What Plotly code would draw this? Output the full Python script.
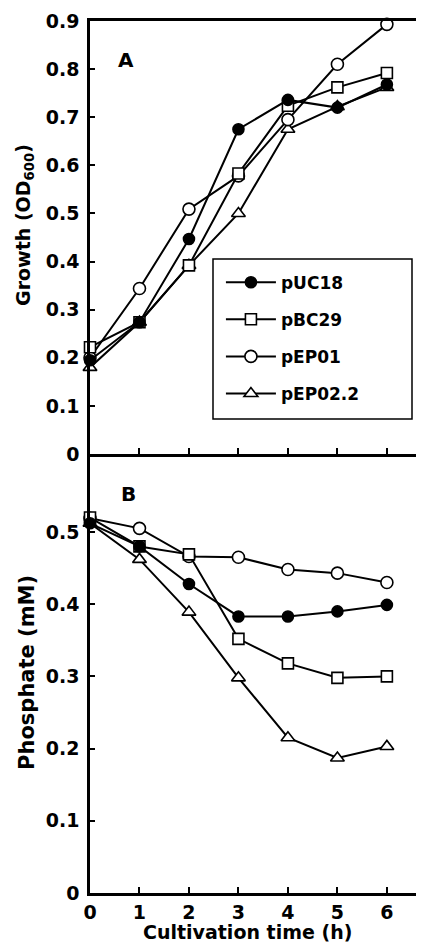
import plotly.graph_objects as go

time_h = [0, 1, 2, 3, 4, 5, 6]
strains = ["pUC18", "pBC29", "pEP01", "pEP02.2"]

growth = {
    "pUC18":   [0.195, 0.274, 0.447, 0.675, 0.736, 0.72, 0.768],
    "pBC29":   [0.222, 0.274, 0.392, 0.583, 0.724, 0.762, 0.792],
    "pEP01":   [0.200, 0.344, 0.509, 0.578, 0.695, 0.810, 0.893],
    "pEP02.2": [0.180, 0.274, 0.392, 0.500, 0.675, 0.722, 0.762],
}
phosphate = {
    "pUC18":   [0.512, 0.480, 0.428, 0.383, 0.383, 0.390, 0.399],
    "pBC29":   [0.520, 0.480, 0.469, 0.352, 0.318, 0.298, 0.300],
    "pEP01":   [0.519, 0.505, 0.466, 0.465, 0.448, 0.443, 0.430],
    "pEP02.2": [0.512, 0.462, 0.389, 0.298, 0.215, 0.187, 0.203],
}

growth_ticks = [0, 0.1, 0.2, 0.3, 0.4, 0.5, 0.6, 0.7, 0.8, 0.9]
phos_ticks = [0, 0.1, 0.2, 0.3, 0.4, 0.5]
x_ticks = [0, 1, 2, 3, 4, 5, 6]

styles = {
    "pUC18":   dict(symbol="circle", color="black"),
    "pBC29":   dict(symbol="square", color="white"),
    "pEP01":   dict(symbol="circle", color="white"),
    "pEP02.2": dict(symbol="triangle-up", color="white"),
}
sizes = {"pUC18": 11, "pBC29": 11, "pEP01": 12, "pEP02.2": 12}
draw_order = ["pEP02.2", "pEP01", "pBC29", "pUC18"]
rank = {s: i + 1 for i, s in enumerate(strains)}

FONT = "DejaVu Sans"
fig = go.Figure()

for s in draw_order:
    st = styles[s]
    mk = dict(symbol=st["symbol"], color=st["color"], size=sizes[s],
              line=dict(color="black", width=1.6))
    fig.add_trace(go.Scatter(
        x=time_h, y=growth[s], mode="lines+markers", name=s,
        line=dict(color="black", width=2), marker=mk,
        legendgroup=s, legendrank=rank[s], cliponaxis=False,
        xaxis="x", yaxis="y"))
    fig.add_trace(go.Scatter(
        x=time_h, y=phosphate[s], mode="lines+markers", name=s,
        line=dict(color="black", width=2), marker=mk,
        legendgroup=s, showlegend=False, cliponaxis=False,
        xaxis="x2", yaxis="y2"))

split = (893 - 454) / 872
tickfont = dict(family=FONT, size=19, color="black", weight="bold")


def fmt(v):
    return "0" if v == 0 else f"{v:.1f}"


fig.update_layout(
    width=416, height=937,
    margin=dict(l=82, r=0, t=13, b=52),
    paper_bgcolor="white", plot_bgcolor="white",
    showlegend=True,
    legend=dict(
        x=0.392, y=0.7206, xanchor="left", yanchor="top",
        bgcolor="rgba(0,0,0,0)", borderwidth=0,
        font=dict(family=FONT, size=17, color="black", weight="bold"),
        traceorder="grouped", tracegroupgap=12, itemwidth=50,
    ),
    shapes=[
        dict(type="rect", xref="paper", yref="paper",
             x0=(213 - 90) / 334, x1=(412 - 90) / 334,
             y0=(893 - 419) / 872, y1=(893 - 259) / 872,
             line=dict(color="black", width=1.5), fillcolor="white", layer="below"),
    ],
    xaxis=dict(
        domain=[0, 1], range=[0, 6.75], anchor="y",
        tickvals=x_ticks, showticklabels=False,
        ticks="inside", ticklen=6, tickwidth=2, tickcolor="black",
        showline=True, linecolor="black", linewidth=2.5, mirror=True,
        showgrid=False, zeroline=False,
    ),
    yaxis=dict(
        domain=[split, 1], range=[0, 0.9], anchor="x",
        tickvals=growth_ticks, ticktext=[fmt(v) for v in growth_ticks],
        tickfont=tickfont,
        ticks="inside", ticklen=5, tickwidth=2, tickcolor="black",
        showline=True, linecolor="black", linewidth=2.5,
        showgrid=False, zeroline=False, ticklabelstandoff=4,
    ),
    xaxis2=dict(
        domain=[0, 1], range=[0, 6.75], anchor="y2",
        tickvals=x_ticks, tickfont=tickfont,
        ticks="inside", ticklen=6, tickwidth=2, tickcolor="black",
        showline=True, linecolor="black", linewidth=2.5,
        showgrid=False, zeroline=False, ticklabelstandoff=0,
    ),
    yaxis2=dict(
        domain=[0, split], range=[0, 0.608], anchor="x2",
        tickvals=phos_ticks, ticktext=[fmt(v) for v in phos_ticks],
        tickfont=tickfont,
        ticks="inside", ticklen=5, tickwidth=2, tickcolor="black",
        showline=True, linecolor="black", linewidth=2.5,
        showgrid=False, zeroline=False, ticklabelstandoff=4,
    ),
    annotations=[
        dict(text="A", x=0.108, y=0.955, xref="paper", yref="paper", showarrow=False,
             xanchor="center", yanchor="middle",
             font=dict(family=FONT, size=20, color="black", weight="bold")),
        dict(text="B", x=0.114, y=0.4576, xref="paper", yref="paper", showarrow=False,
             xanchor="center", yanchor="middle",
             font=dict(family=FONT, size=20, color="black", weight="bold")),
        dict(text="Growth (OD<sub>600</sub>)", x=-0.198, y=0.766, xref="paper", yref="paper",
             showarrow=False, textangle=-90, xanchor="center", yanchor="middle",
             font=dict(family=FONT, size=19, color="black", weight="bold")),
        dict(text="Phosphate (mM)", x=-0.189, y=0.2534, xref="paper", yref="paper",
             showarrow=False, textangle=-90, xanchor="center", yanchor="middle",
             font=dict(family=FONT, size=21, color="black", weight="bold")),
        dict(text="Cultivation time (h)", x=0.473, y=-0.0447, xref="paper", yref="paper",
             showarrow=False, xanchor="center", yanchor="middle",
             font=dict(family=FONT, size=19, color="black", weight="bold")),
    ],
)

fig.write_html("out.html")
